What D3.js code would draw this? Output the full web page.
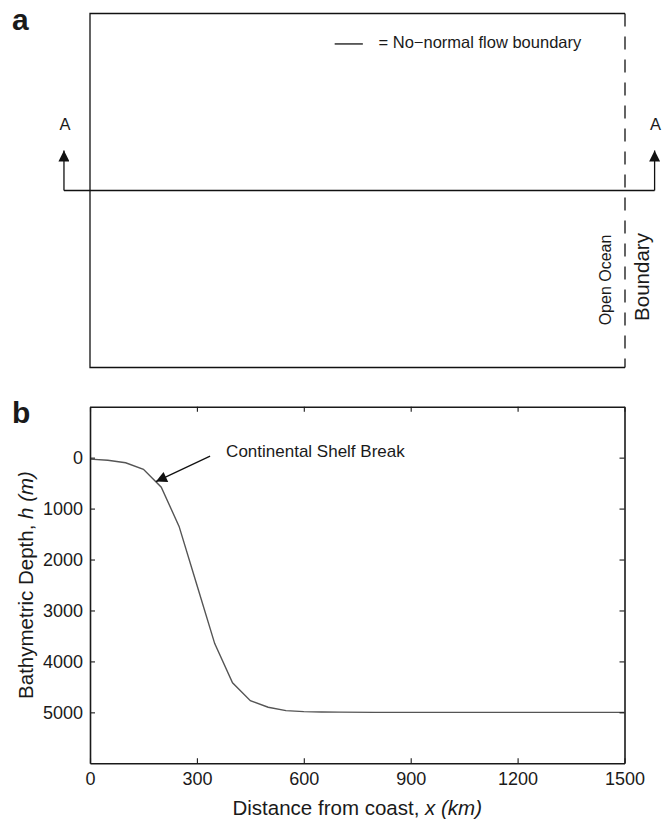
<!DOCTYPE html>
<html>
<head>
<meta charset="utf-8">
<script src="https://cdn.jsdelivr.net/npm/d3@7"></script>
<style>
  html, body { margin: 0; padding: 0; background: #fff; }
  svg { display: block; }
  text { font-family: "Liberation Sans", Arial, Helvetica, sans-serif; fill: #1a1a1a; }
</style>
</head>
<body>
<script>
// ---- Data (panel b bathymetry profile) ----
const distanceKm = [0, 50, 100, 150, 200, 250, 300, 350, 400, 450, 500, 550, 600, 650, 700, 800, 900, 1000, 1100, 1200, 1300, 1400, 1500];
const depthM     = [30, 50, 100, 230, 580, 1350, 2500, 3650, 4420, 4770, 4900, 4965, 4985, 4992, 4996, 5000, 5000, 5000, 5000, 5000, 5000, 5000, 5000];
const xTicks = [0, 300, 600, 900, 1200, 1500];
const yTicks = [0, 1000, 2000, 3000, 4000, 5000];
const xDomain = [0, 1500];
const yDomain = [-1000, 6000];

// annotation (data coords)
const shelfBreakTip  = [185, 470];
const shelfBreakTail = [337, -30];
const shelfBreakLabel = "Continental Shelf Break";

// panel a schematic (x in km, y in unit fraction of box height)
const sectionArrowX = [-73, 1583];
const sectionLineY = 0.5;
const legendText = "= No\u2212normal flow boundary";

const W = 670, H = 822;
const svg = d3.select("body").append("svg").attr("width", W).attr("height", H);

const defs = svg.append("defs");
defs.append("marker").attr("id", "head").attr("viewBox", "0 0 10 10")
  .attr("refX", 10).attr("refY", 5).attr("markerWidth", 15).attr("markerHeight", 11)
  .attr("markerUnits", "userSpaceOnUse").attr("orient", "auto")
  .append("path").attr("d", "M0,0 L10,5 L0,10 Z").attr("fill", "#111");

// ---------- Panel a ----------
const xA = d3.scaleLinear().domain(xDomain).range([90, 625]);
const yA = d3.scaleLinear().domain([0, 1]).range([13.5, 367.5]);
const gA = svg.append("g");

gA.append("text").attr("x", 12).attr("y", 29.5).attr("font-size", 30).attr("font-weight", "bold").text("a");

// solid box sides (top, left, bottom)
gA.append("path")
  .attr("d", `M${xA(1500)},${yA(0)} L${xA(0)},${yA(0)} L${xA(0)},${yA(1)} L${xA(1500)},${yA(1)}`)
  .attr("fill", "none").attr("stroke", "#111").attr("stroke-width", 1.3);
// dashed open-ocean boundary
gA.append("line").attr("x1", xA(1500)).attr("x2", xA(1500)).attr("y1", yA(0)).attr("y2", yA(1))
  .attr("stroke", "#111").attr("stroke-width", 1.3).attr("stroke-dasharray", "13,10");

// section A-A line
gA.append("line").attr("x1", xA(sectionArrowX[0])).attr("x2", xA(sectionArrowX[1]))
  .attr("y1", yA(sectionLineY)).attr("y2", yA(sectionLineY))
  .attr("stroke", "#111").attr("stroke-width", 1.3);
sectionArrowX.forEach(v => {
  gA.append("line").attr("x1", xA(v)).attr("x2", xA(v))
    .attr("y1", yA(sectionLineY)).attr("y2", yA(0.387))
    .attr("stroke", "#111").attr("stroke-width", 1.3).attr("marker-end", "url(#head)");
  gA.append("text").attr("x", xA(v) + 1).attr("y", yA(0.328)).attr("text-anchor", "middle")
    .attr("font-size", 16.5).text("A");
});

// legend
gA.append("line").attr("x1", xA(686)).attr("x2", xA(765)).attr("y1", yA(0.086)).attr("y2", yA(0.086))
  .attr("stroke", "#111").attr("stroke-width", 1.3);
gA.append("text").attr("x", xA(809)).attr("y", yA(0.098)).attr("font-size", 16.5).text(legendText);

// open ocean boundary labels
gA.append("text").attr("transform", `translate(611,280) rotate(-90)`).attr("text-anchor", "middle")
  .attr("font-size", 16).text("Open Ocean");
gA.append("text").attr("transform", `translate(649,277) rotate(-90)`).attr("text-anchor", "middle")
  .attr("font-size", 20.5).text("Boundary");

// ---------- Panel b ----------
const x = d3.scaleLinear().domain(xDomain).range([90, 624.5]);
const y = d3.scaleLinear().domain(yDomain).range([406.7, 763.3]);
const gB = svg.append("g");

gB.append("text").attr("x", 12).attr("y", 422.5).attr("font-size", 30).attr("font-weight", "bold").text("b");

gB.append("clipPath").attr("id", "clipB").append("rect")
  .attr("x", x(0)).attr("y", y(-1000)).attr("width", x(1500) - x(0)).attr("height", y(6000) - y(-1000));

const line = d3.line().x((d, i) => x(distanceKm[i])).y(d => y(d));
gB.append("path").datum(depthM).attr("d", line).attr("clip-path", "url(#clipB)")
  .attr("fill", "none").attr("stroke", "#555").attr("stroke-width", 1.4);

// axes (MATLAB style inward ticks, box)
const fontAxis = 18;
const fmt = d3.format("d");
const axB = gB.append("g").attr("transform", `translate(0,${y(6000)})`)
  .call(d3.axisBottom(x).tickValues(xTicks).tickSize(-5).tickSizeOuter(0).tickPadding(9).tickFormat(fmt));
const axT = gB.append("g").attr("transform", `translate(0,${y(-1000)})`)
  .call(d3.axisTop(x).tickValues(xTicks).tickSize(-5).tickSizeOuter(0).tickFormat(""));
const axL = gB.append("g").attr("transform", `translate(${x(0)},0)`)
  .call(d3.axisLeft(y).tickValues(yTicks).tickSize(-5).tickSizeOuter(0).tickPadding(7).tickFormat(fmt));
const axR = gB.append("g").attr("transform", `translate(${x(1500)},0)`)
  .call(d3.axisRight(y).tickValues(yTicks).tickSize(-5).tickSizeOuter(0).tickFormat(""));
[axB, axT, axL, axR].forEach(a => {
  a.select(".domain").attr("stroke", "#1a1a1a").attr("stroke-width", 1.6);
  a.selectAll(".tick line").attr("stroke", "#1a1a1a").attr("stroke-width", 1.1);
  a.selectAll(".tick text").attr("font-size", fontAxis).attr("fill", "#1a1a1a")
    .attr("font-family", "\"Liberation Sans\", Arial, Helvetica, sans-serif");
});

// axis titles
const xt = gB.append("text").attr("x", (x(0) + x(1500)) / 2).attr("y", 815).attr("text-anchor", "middle").attr("font-size", 20.5);
xt.append("tspan").text("Distance from coast, ");
xt.append("tspan").attr("font-style", "italic").text("x (km)");

const yt = gB.append("text").attr("transform", `translate(33,${(y(-1000) + y(6000)) / 2}) rotate(-90)`)
  .attr("text-anchor", "middle").attr("font-size", 20.5);
yt.append("tspan").text("Bathymetric Depth, ");
yt.append("tspan").attr("font-style", "italic").text("h (m)");

// annotation
gB.append("line")
  .attr("x1", x(shelfBreakTail[0])).attr("y1", y(shelfBreakTail[1]))
  .attr("x2", x(shelfBreakTip[0])).attr("y2", y(shelfBreakTip[1]))
  .attr("stroke", "#111").attr("stroke-width", 1.3).attr("marker-end", "url(#head)");
gB.append("text").attr("x", x(382)).attr("y", 457).attr("font-size", 17).text(shelfBreakLabel);
</script>
</body>
</html>
